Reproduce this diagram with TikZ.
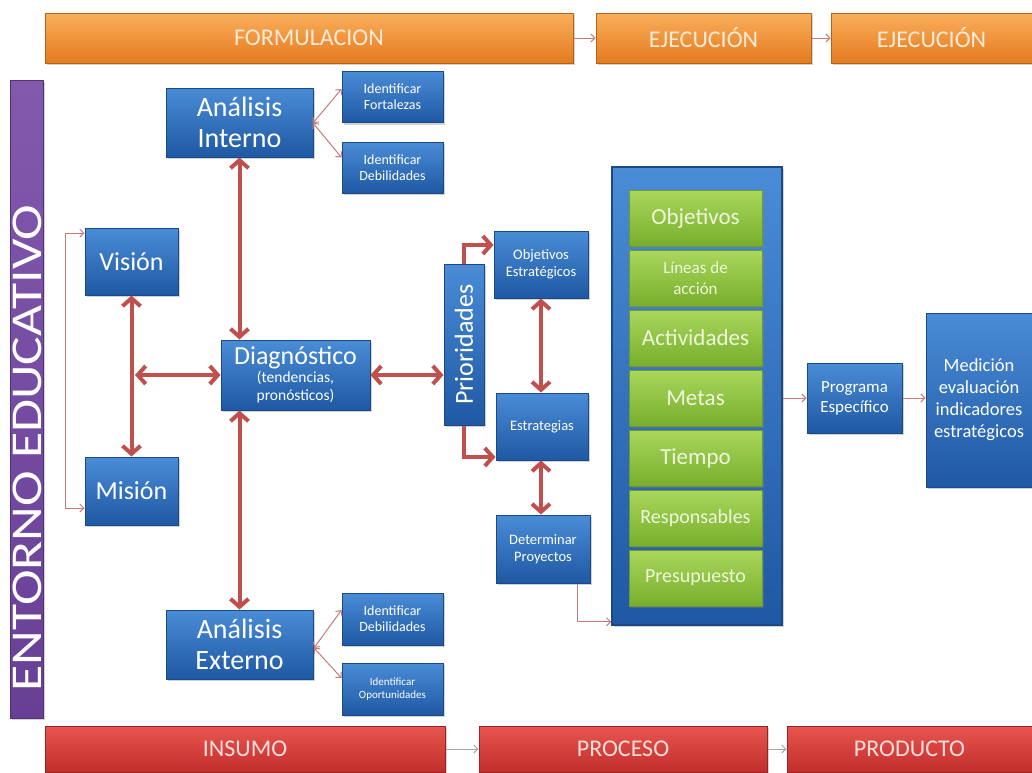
\documentclass[tikz,border=0pt]{standalone}
\usepackage{fontspec}
\usepackage{graphicx}
\setmainfont{Carlito}
\usetikzlibrary{arrows.meta,shadows,calc}
\definecolor{bluetop}{HTML}{4A8CD6}
\definecolor{bluebot}{HTML}{1F58A3}
\definecolor{blueedge}{HTML}{1A4A85}
\definecolor{greentop}{HTML}{A9D75C}
\definecolor{greenbot}{HTML}{78AE2C}
\definecolor{greenedge}{HTML}{6C9A2C}
\definecolor{greentext}{HTML}{EEF7DE}
\definecolor{orangetop}{HTML}{FAAE5C}
\definecolor{orangebot}{HTML}{E47B1F}
\definecolor{orangeedge}{HTML}{B86218}
\definecolor{orangetext}{HTML}{FDEBD8}
\definecolor{redtop}{HTML}{E8564F}
\definecolor{redbot}{HTML}{C22E2B}
\definecolor{rededge}{HTML}{962422}
\definecolor{redtext}{HTML}{FADEDC}
\definecolor{purptop}{HTML}{8259AD}
\definecolor{purpbot}{HTML}{673F95}
\definecolor{arrowred}{HTML}{C0504D}
\definecolor{thinred}{HTML}{C77A78}
\tikzset{
  boxbase/.style={rectangle, inner sep=0pt, align=center, line width=1pt,
    drop shadow={opacity=0.35, shadow xshift=2pt, shadow yshift=-2pt}},
  bluebox/.style={boxbase, draw=blueedge, top color=bluetop, bottom color=bluebot, text=white},
  greenbox/.style={boxbase, draw=greenedge, top color=greentop, bottom color=greenbot, text=greentext,
    minimum width=133pt, minimum height=56pt, font=\fontsize{23}{25}\selectfont},
  orangebar/.style={boxbase, draw=orangeedge, top color=orangetop, bottom color=orangebot, text=orangetext,
    minimum height=50pt, font=\fontsize{24}{26}\selectfont},
  redbar/.style={boxbase, draw=rededge, top color=redtop, bottom color=redbot, text=redtext,
    minimum height=46pt, font=\fontsize{24}{26}\selectfont},
  smallbox/.style={bluebox, minimum width=101pt, minimum height=51pt, font=\fontsize{14}{16}\selectfont},
  thickarr/.style={draw=arrowred, line width=4pt, {Straight Barb[length=8pt,width=18pt]}-{Straight Barb[length=8pt,width=18pt]}},
  thickone/.style={draw=arrowred, line width=4pt, -{Straight Barb[length=8pt,width=18pt]}},
  thinarr/.style={draw=thinred, line width=1pt, -{Straight Barb[length=4pt,width=8pt]}},
  thinboth/.style={draw=thinred, line width=1pt, {Straight Barb[length=4pt,width=8pt]}-{Straight Barb[length=4pt,width=8pt]}},
}
\begin{document}
\begin{tikzpicture}[x=1pt,y=-1pt]
\useasboundingbox (0,0) rectangle (1032,772);
\fill[white] (0,0) rectangle (1032,772);

% top bars
\node[orangebar, minimum width=528pt] (form) at (309,38) {FORMULACION};
\node[orangebar, minimum width=215pt] (ej1) at (703.5,38) {EJECUCIÓN};
\node[orangebar, minimum width=201pt] (ej2) at (931.5,38) {EJECUCIÓN};
\draw[thinarr] (form.east) -- (ej1.west);
\draw[thinarr] (ej1.east) -- (ej2.west);

% bottom bars
\node[redbar, minimum width=400pt] (ins) at (245,749) {INSUMO};
\node[redbar, minimum width=288pt] (proc) at (623,749) {PROCESO};
\node[redbar, minimum width=245pt] (prod) at (909.5,749) {PRODUCTO};
\draw[thinarr, draw=gray!70] (ins.east) -- (proc.west);
\draw[thinarr, draw=gray!70] (proc.east) -- (prod.west);

% purple bar
\node[boxbase, draw=purpbot!80!black, top color=purptop, bottom color=purpbot,
  minimum width=33pt, minimum height=638pt] (ent) at (26.5,399) {};
\node[rotate=90, text=white, inner sep=0pt, font=\fontsize{44}{46}\selectfont]
  (entt) at (27.5,448) {\scalebox{1.22}[1]{ENTORNO EDUCATIVO}};

% blue boxes
\node[bluebox, minimum width=147pt, minimum height=69pt, font=\fontsize{28}{31}\selectfont]
  (ai) at (239.5,122.5) {Análisis\\Interno};
\node[smallbox] (if) at (392.5,97) {Identificar\\Fortalezas};
\node[smallbox] (id) at (392.5,167.5) {Identificar\\Debilidades};
\node[bluebox, minimum width=93pt, minimum height=67pt, font=\fontsize{26}{28}\selectfont]
  (vi) at (131.5,261.5) {Visión};
\node[bluebox, minimum width=93pt, minimum height=68pt, font=\fontsize{26}{28}\selectfont]
  (mi) at (131.5,491) {Misión};
\node[bluebox, minimum width=149pt, minimum height=70pt, font=\fontsize{26}{18}\selectfont]
  (dg) at (295.5,375) {Diagnóstico\\{\fontsize{15.5}{18}\selectfont (tendencias,}\\{\fontsize{15.5}{18}\selectfont pronósticos)}};
\node[bluebox, minimum width=147pt, minimum height=69pt, font=\fontsize{28}{31}\selectfont]
  (ae) at (239.5,644.5) {Análisis\\Externo};
\node[smallbox, minimum height=52pt] (ed) at (392.5,619) {Identificar\\Debilidades};
\node[smallbox, minimum height=52pt, font=\fontsize{11}{13}\selectfont] (eo) at (392.5,689) {Identificar\\Oportunidades};

\node[bluebox, minimum width=161pt, minimum height=40pt, rotate=90, font=\fontsize{26}{28}\selectfont]
  (pr) at (464,344.5) {Prioridades};
\node[smallbox, minimum width=94pt, minimum height=67pt, font=\fontsize{14.5}{17}\selectfont] (oe) at (541,264.5) {Objetivos\\Estratégicos};
\node[smallbox, minimum width=92pt, minimum height=67pt, font=\fontsize{14.5}{17}\selectfont] (es) at (542,426.5) {Estrategias};
\node[smallbox, minimum width=94pt, minimum height=68pt, font=\fontsize{14.5}{17}\selectfont] (dp) at (543,549) {Determinar\\Proyectos};

% big box with green rows
\node[bluebox, minimum width=170pt, minimum height=458pt, line width=1.5pt] (big) at (697,396) {};
\node[greenbox] (g1) at (695.5,218) {Objetivos};
\node[greenbox, font=\fontsize{17}{21}\selectfont] (g2) at (695.5,278) {Líneas de\\acción};
\node[greenbox] (g3) at (695.5,338) {Actividades};
\node[greenbox] (g4) at (695.5,398) {Metas};
\node[greenbox] (g5) at (695.5,458) {Tiempo};
\node[greenbox, font=\fontsize{20}{22}\selectfont] (g6) at (695.5,518) {Responsables};
\node[greenbox, font=\fontsize{20}{22}\selectfont] (g7) at (695.5,578) {Presupuesto};

\node[bluebox, minimum width=95pt, minimum height=70pt, font=\fontsize{17}{20}\selectfont]
  (pe) at (854.5,398) {Programa\\Específico};
\node[bluebox, minimum width=106pt, minimum height=174pt, font=\fontsize{18.5}{22}\selectfont]
  (me) at (979,400) {Medición\\evaluación\\indicadores\\estratégicos};

% thick arrows
\draw[thickarr] (ai.south) -- (ai.south |- dg.north);
\draw[thickarr] (ae.north) -- (ae.north |- dg.south);
\draw[thickarr] (vi.south) -- (mi.north);
\coordinate (jn) at (135,375);
\draw[thickarr] (jn) -- (dg.west);
\draw[thickarr] (dg.east) -- (dg.east -| pr.north);
\draw[thickarr] (oe.south -| 541,0) -- (es.north -| 541,0);
\draw[thickarr] (es.south -| 541,0) -- (dp.north -| 541,0);
\draw[thickone] (pr.east) |- ([yshift=19.5pt]oe.west);
\draw[thickone] (pr.west) |- ([yshift=-30.5pt]es.west);

% thin arrows
\coordinate (aie) at (313,123);
\draw[thinboth] (aie) -- ([yshift=8pt]if.west);
\draw[thinboth] (aie) -- ([yshift=10pt]id.west);
\coordinate (aee) at (314,648);
\draw[thinboth] (aee) -- ([yshift=9pt]ed.west);
\draw[thinboth] (aee) -- ([yshift=11pt]eo.west);
\coordinate (b1) at (65,233);
\coordinate (b2) at (65,508);
\draw[thinboth] (b1 -| vi.west) -- (b1) -- (b2) -- (b2 -| mi.west);
\draw[thinarr] ([xshift=34pt]dp.south) |- ([yshift=4pt]big.south west);
\draw[thinarr] (big.east |- pe.west) -- (pe.west);
\draw[thinarr] (pe.east) -- (pe.east -| me.west);
\end{tikzpicture}
\end{document}
